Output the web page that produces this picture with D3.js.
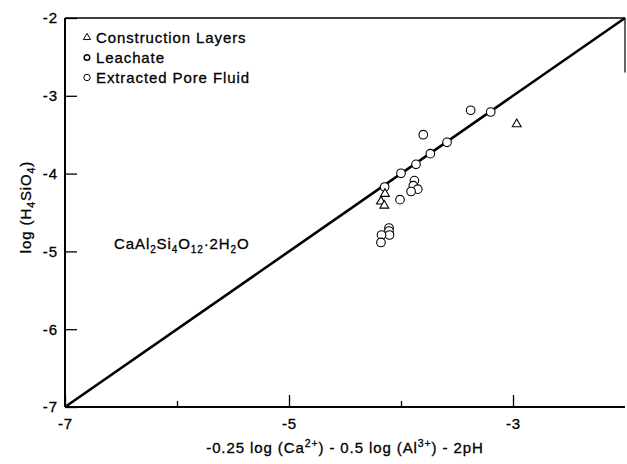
<!DOCTYPE html>
<html>
<head>
<meta charset="utf-8">
<script src="https://cdn.jsdelivr.net/npm/d3@7"></script>
<style>
  html, body { margin: 0; padding: 0; background: #fff; }
  svg { display: block; }
  text { font-family: "Liberation Sans", Arial, Helvetica, sans-serif; fill: #000; stroke: #000; stroke-width: 0.3px; letter-spacing: 0.9px; }
</style>
</head>
<body>
<svg id="chart" width="627" height="464"></svg>
<script>
// Construction layer samples (triangles)
const constructionX = [-4.143, -4.179, -4.149, -2.967];
const constructionY = [-4.249, -4.348, -4.400, -3.354];

// Leachate samples
const leachateX = [-3.88, -3.89, -3.85, -3.91, -4.009, -4.107, -4.107, -4.103, -4.174, -4.179];
const leachateY = [-4.09, -4.155, -4.20, -4.23, -4.335, -4.699, -4.738, -4.789, -4.789, -4.885];

// Extracted pore fluid samples
const poreX = [-3.378, -3.199, -3.801, -3.589, -3.738, -3.866, -4.000, -4.146];
const poreY = [-3.186, -3.208, -3.500, -3.598, -3.744, -3.881, -3.996, -4.172];

// Equilibrium line end points
const lineX = [-7, -2];
const lineY = [-7, -2];

// Axis ticks
const xMajorTicks = [-7, -5, -3];
const xMinorTicks = [-6, -4];
const yTicks = [-7, -6, -5, -4, -3, -2];

const legendLabels = ["Construction Layers", "Leachate", "Extracted Pore Fluid"];

const svg = d3.select("#chart");
const plotL = 65, plotR = 625, plotT = 18, plotB = 407;

const x = d3.scaleLinear().domain([-7, -2]).range([plotL, plotR]);
const y = d3.scaleLinear().domain([-7, -2]).range([plotB, plotT]);

const fmt = d => String(d);

// X axis: labelled major ticks and short unlabelled ticks, pointing inward
const xAxisMajor = d3.axisBottom(x).tickValues(xMajorTicks).tickSize(-12).tickPadding(20).tickFormat(fmt);
const gx = svg.append("g").attr("transform", `translate(0,${plotB})`).call(xAxisMajor);
gx.select(".domain").remove();
gx.selectAll("line").attr("stroke", "#000").attr("stroke-width", 1.3);
gx.selectAll("text").attr("font-size", 15).attr("dy", "0.1em");

const xAxisMinor = d3.axisBottom(x).tickValues(xMinorTicks).tickSize(-6).tickFormat("");
const gxm = svg.append("g").attr("transform", `translate(0,${plotB})`).call(xAxisMinor);
gxm.select(".domain").remove();
gxm.selectAll("line").attr("stroke", "#000").attr("stroke-width", 1.3);

// Y axis with inward ticks
const yAxis = d3.axisLeft(y).tickValues(yTicks).tickSize(-12).tickPadding(7).tickFormat(fmt);
const gy = svg.append("g").attr("transform", `translate(${plotL},0)`).call(yAxis);
gy.select(".domain").remove();
gy.selectAll("line").attr("stroke", "#000").attr("stroke-width", 1.3);
gy.selectAll("text").attr("font-size", 15);

// Frame
svg.append("line").attr("x1", plotL).attr("x2", plotL).attr("y1", plotT).attr("y2", plotB)
  .attr("stroke", "#000").attr("stroke-width", 2);
svg.append("line").attr("x1", plotL).attr("x2", plotR).attr("y1", plotB).attr("y2", plotB)
  .attr("stroke", "#000").attr("stroke-width", 2);
svg.append("line").attr("x1", plotL).attr("x2", plotR).attr("y1", plotT).attr("y2", plotT)
  .attr("stroke", "#000").attr("stroke-width", 1.6);
svg.append("line").attr("x1", plotR).attr("x2", plotR).attr("y1", plotT).attr("y2", y(-2.7))
  .attr("stroke", "#000").attr("stroke-width", 1.2);

// 1:1 equilibrium line
svg.append("line")
  .attr("x1", x(lineX[0])).attr("y1", y(lineY[0]))
  .attr("x2", x(lineX[1])).attr("y2", y(lineY[1]))
  .attr("stroke", "#000").attr("stroke-width", 2.6);

const tri = d3.symbol().type(d3.symbolTriangle).size(34);

function circles(xs, ys, r, sw) {
  svg.append("g").selectAll("circle").data(xs.map((v, i) => [v, ys[i]])).join("circle")
    .attr("cx", d => x(d[0])).attr("cy", d => y(d[1])).attr("r", r)
    .attr("fill", "#fff").attr("stroke", "#000").attr("stroke-width", sw);
}
circles(leachateX, leachateY, 4.3, 1.1);
circles(poreX, poreY, 4.3, 1.1);

svg.append("g").selectAll("path").data(constructionX.map((v, i) => [v, constructionY[i]])).join("path")
  .attr("d", tri)
  .attr("transform", d => `translate(${x(d[0])},${y(d[1]) + 0.8})`)
  .attr("fill", "#fff").attr("stroke", "#000").attr("stroke-width", 1.1);

// Legend
const legY = [42.5, 62.5, 82.5];
const lg = svg.append("g");
lg.append("path").attr("d", d3.symbol().type(d3.symbolTriangle).size(22))
  .attr("transform", `translate(87,${legY[0] - 5})`)
  .attr("fill", "#fff").attr("stroke", "#000").attr("stroke-width", 1);
lg.append("circle").attr("cx", 87).attr("cy", legY[1] - 5).attr("r", 2.8)
  .attr("fill", "#fff").attr("stroke", "#000").attr("stroke-width", 1.4);
lg.append("circle").attr("cx", 87).attr("cy", legY[2] - 5).attr("r", 3.2)
  .attr("fill", "#fff").attr("stroke", "#000").attr("stroke-width", 1);
legendLabels.forEach((t, i) => {
  lg.append("text").attr("x", 96).attr("y", legY[i]).attr("font-size", 15).text(t);
});

// Writes runs of text; shift > 0 lowers a run (subscript), shift < 0 raises it (superscript)
function richText(el, runs, smallSize) {
  let cur = 0;
  runs.forEach(([txt, shift]) => {
    const ts = el.append("tspan").attr("dy", shift - cur).text(txt);
    if (shift !== 0) ts.attr("font-size", smallSize);
    cur = shift;
  });
}

// Mineral annotation
const ann = svg.append("text").attr("x", 114).attr("y", 249).attr("font-size", 15);
richText(ann, [["CaAl", 0], ["2", 4], ["Si", 0], ["4", 4], ["O", 0], ["12", 4],
  ["\u00b72H", 0], ["2", 4], ["O", 0]], 10);

// X axis title
const xt = svg.append("text").attr("x", (plotL + plotR) / 2).attr("y", 453)
  .attr("text-anchor", "middle").attr("font-size", 15);
richText(xt, [["-0.25 log (Ca", 0], ["2+", -6], [") - 0.5 log (Al", 0], ["3+", -6], [") - 2pH", 0]], 10.5);

// Y axis title
const yt = svg.append("text").attr("transform", "translate(31,207) rotate(-90)")
  .attr("text-anchor", "middle").attr("font-size", 15);
richText(yt, [["log (H", 0], ["4", 4], ["SiO", 0], ["4", 4], [")", 0]], 10.5);
</script>
</body>
</html>
